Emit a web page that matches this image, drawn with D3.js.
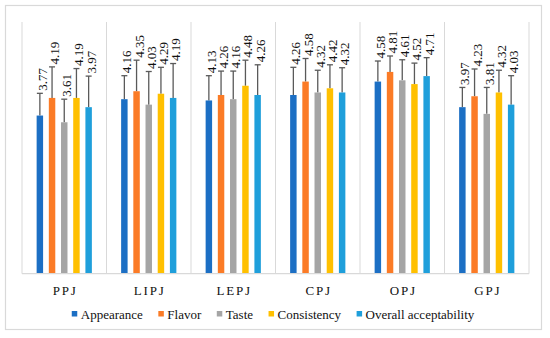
<!DOCTYPE html>
<html lang="en">
<head>
<meta charset="UTF-8">
<title>Sensory scores of juices</title>
<script src="https://cdn.jsdelivr.net/npm/d3@7"></script>
<style>
	body { margin: 0; background: #fff; }
</style>
</head>
<body>
<div id="chart"></div>
<script>
	// values
	const categories = ["PPJ", "LIPJ", "LEPJ", "CPJ", "OPJ", "GPJ"];
	const seriesNames = ["Appearance", "Flavor", "Taste", "Consistency", "Overall acceptability"];

	const appearance = [3.77, 4.16, 4.13, 4.26, 4.58, 3.97];
	const flavor = [4.19, 4.35, 4.26, 4.58, 4.81, 4.23];
	const taste = [3.61, 4.03, 4.16, 4.32, 4.61, 3.81];
	const consistency = [4.19, 4.29, 4.48, 4.42, 4.52, 4.32];
	const overall = [3.97, 4.19, 4.26, 4.32, 4.71, 4.03];

	// standard deviations (estimated from error bar tops)
	const appearanceSd = [0.53, 0.56, 0.59, 0.66, 0.49, 0.47];
	const flavorSd = [0.74, 0.74, 0.57, 0.55, 0.38, 0.65];
	const tasteSd = [0.55, 0.79, 0.67, 0.53, 0.49, 0.63];
	const consistencySd = [0.70, 0.63, 0.61, 0.56, 0.50, 0.53];
	const overallSd = [0.74, 0.82, 0.72, 0.59, 0.44, 0.69];

	const means = [appearance, flavor, taste, consistency, overall];
	const sds = [appearanceSd, flavorSd, tasteSd, consistencySd, overallSd];
	const colors = ["#1c6fc4", "#fb7b26", "#a5a5a5", "#ffc000", "#1f9fdb"];

	const width = 550, height = 338;
	const plot = { left: 22, right: 529, top: 22, bottom: 273.7 };
	const serif = "'Liberation Serif', 'Times New Roman', Times, serif";

	const svg = d3.select("#chart").append("svg")
		.attr("width", width)
		.attr("height", height)
		.attr("font-family", serif);

	// outer frame
	svg.append("rect")
		.attr("x", 5.5).attr("y", 5.5)
		.attr("width", 536).attr("height", 324)
		.attr("fill", "#fff")
		.attr("stroke", "#d9d9d9")
		.attr("stroke-width", 1.2);

	const x0 = d3.scaleBand().domain(categories).range([plot.left, plot.right]).padding(0);
	const x1 = d3.scaleBand().domain(seriesNames).range([0, x0.bandwidth()])
		.paddingInner(0.47).paddingOuter(1.2);
	const y = d3.scaleLinear().domain([0, 6]).range([plot.bottom, plot.top]);

	// category separators
	const edges = categories.map(c => x0(c)).concat([plot.right]);
	svg.append("g").selectAll("line")
		.data(edges)
		.join("line")
		.attr("x1", d => d).attr("x2", d => d)
		.attr("y1", y(6)).attr("y2", y(0))
		.attr("stroke", "#d9d9d9")
		.attr("stroke-width", 1);

	// flat records
	const rows = [];
	categories.forEach((c, i) => {
		seriesNames.forEach((s, j) => {
			rows.push({ cat: c, series: s, idx: j, value: means[j][i], sd: sds[j][i] });
		});
	});

	const g = svg.append("g");
	const cx = d => x0(d.cat) + x1(d.series) + x1.bandwidth() / 2;

	// error bars (plus side)
	g.selectAll("line.err")
		.data(rows)
		.join("line")
		.attr("class", "err")
		.attr("x1", cx).attr("x2", cx)
		.attr("y1", d => y(d.value)).attr("y2", d => y(d.value + d.sd))
		.attr("stroke", "#5a5a5a")
		.attr("stroke-width", 1.3);
	g.selectAll("line.cap")
		.data(rows)
		.join("line")
		.attr("class", "cap")
		.attr("x1", d => cx(d) - 3).attr("x2", d => cx(d) + 3)
		.attr("y1", d => y(d.value + d.sd)).attr("y2", d => y(d.value + d.sd))
		.attr("stroke", "#5a5a5a")
		.attr("stroke-width", 1.3);

	// bars
	g.selectAll("rect.bar")
		.data(rows)
		.join("rect")
		.attr("class", "bar")
		.attr("x", d => x0(d.cat) + x1(d.series))
		.attr("width", x1.bandwidth())
		.attr("y", d => y(d.value))
		.attr("height", d => y(0) - y(d.value))
		.attr("fill", d => colors[d.idx]);

	// value labels, rotated
	g.selectAll("text.val")
		.data(rows)
		.join("text")
		.attr("class", "val")
		.attr("transform", d => `translate(${cx(d) + 7},${y(d.value + d.sd) - 2.5}) rotate(-90)`)
		.attr("font-family", serif)
		.attr("font-size", 13)
		.attr("fill", "#111")
		.text(d => d.value.toFixed(2));

	// baseline
	svg.append("line")
		.attr("x1", plot.left).attr("x2", plot.right)
		.attr("y1", y(0)).attr("y2", y(0))
		.attr("stroke", "#d9d9d9")
		.attr("stroke-width", 1.2);

	// category axis labels
	svg.append("g").selectAll("text")
		.data(categories)
		.join("text")
		.attr("x", d => x0(d) + x0.bandwidth() / 2 + 1)
		.attr("y", 294.5)
		.attr("text-anchor", "middle")
		.attr("font-family", serif)
		.attr("font-size", 13)
		.attr("letter-spacing", "1.8px")
		.attr("fill", "#111")
		.text(d => d);

	// legend
	const legend = svg.append("g");
	let lx = 0;
	seriesNames.forEach((s, j) => {
		const item = legend.append("g").attr("transform", `translate(${lx},0)`);
		item.append("rect")
			.attr("x", 0).attr("y", -3)
			.attr("width", 5.5).attr("height", 5.5)
			.attr("fill", colors[j]);
		const t = item.append("text")
			.attr("x", 9).attr("y", 4.5)
			.attr("font-family", serif)
			.attr("font-size", 13)
			.attr("fill", "#111")
			.text(s);
		lx += 9 + t.node().getComputedTextLength() + 15.5;
	});
	const legendWidth = lx - 15.5;
	legend.attr("transform", `translate(${273 - legendWidth / 2},314)`);
</script>
</body>
</html>
